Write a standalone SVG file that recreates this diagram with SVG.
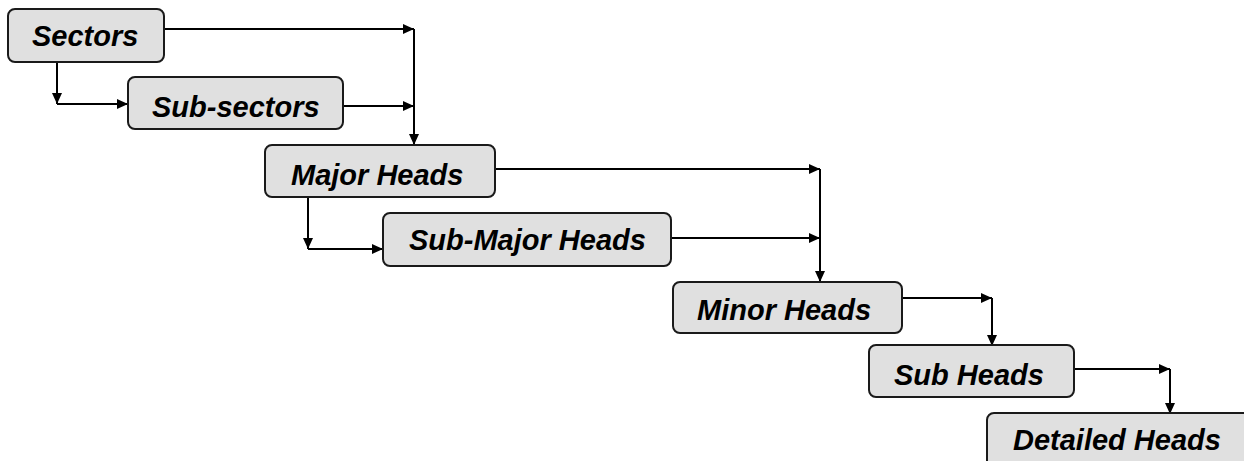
<svg xmlns="http://www.w3.org/2000/svg" width="1244" height="461" viewBox="0 0 1244 461">
  <style>
    .box { fill: #e0e0e0; stroke: #1a1a1a; stroke-width: 2; }
    .lbl { font-family: "Liberation Sans", Arial, sans-serif; font-size: 29px; font-weight: bold; font-style: italic; fill: #000; }
    .conn { fill: none; stroke: #000; stroke-width: 2; marker-end: url(#arrow); }
  </style>
  <defs>
    <marker id="arrow" markerUnits="userSpaceOnUse" markerWidth="12" markerHeight="10" refX="11" refY="5" orient="auto">
      <path d="M0,0 L11,5 L0,10 Z" fill="#000"/>
    </marker>
  </defs>
  <rect width="1244" height="461" fill="#fff"/>

  <g id="connectors">
    <path class="conn" d="M164,29 H414"/>
    <path class="conn" d="M414,29 V145"/>
    <path class="conn" d="M57,62 V104"/>
    <path class="conn" d="M57,104 H128"/>
    <path class="conn" d="M343,106 H414"/>
    <path class="conn" d="M496,169 H820"/>
    <path class="conn" d="M820,169 V282"/>
    <path class="conn" d="M308,198 V249"/>
    <path class="conn" d="M308,249 H383"/>
    <path class="conn" d="M671,238 H820"/>
    <path class="conn" d="M903,298 H992"/>
    <path class="conn" d="M992,298 V346"/>
    <path class="conn" d="M1074,369 H1170"/>
    <path class="conn" d="M1170,369 V414"/>
  </g>

  <g id="sectors">
    <rect class="box" x="8" y="9" width="156" height="53" rx="7"/>
    <text class="lbl" x="32" y="46">Sectors</text>
  </g>
  <g id="sub-sectors">
    <rect class="box" x="128" y="77" width="215" height="52" rx="7"/>
    <text class="lbl" x="152" y="117">Sub-sectors</text>
  </g>
  <g id="major-heads">
    <rect class="box" x="265" y="145" width="230" height="52" rx="7"/>
    <text class="lbl" x="291" y="185">Major Heads</text>
  </g>
  <g id="sub-major-heads">
    <rect class="box" x="383" y="213" width="288" height="53" rx="7"/>
    <text class="lbl" x="409" y="250">Sub-Major Heads</text>
  </g>
  <g id="minor-heads">
    <rect class="box" x="673" y="282" width="229" height="51" rx="7"/>
    <text class="lbl" x="697" y="320">Minor Heads</text>
  </g>
  <g id="sub-heads">
    <rect class="box" x="869" y="345" width="205" height="52" rx="7"/>
    <text class="lbl" x="894" y="385">Sub Heads</text>
  </g>
  <g id="detailed-heads">
    <rect class="box" x="987" y="413" width="270" height="60" rx="7"/>
    <text class="lbl" x="1013" y="450">Detailed Heads</text>
  </g>
</svg>
